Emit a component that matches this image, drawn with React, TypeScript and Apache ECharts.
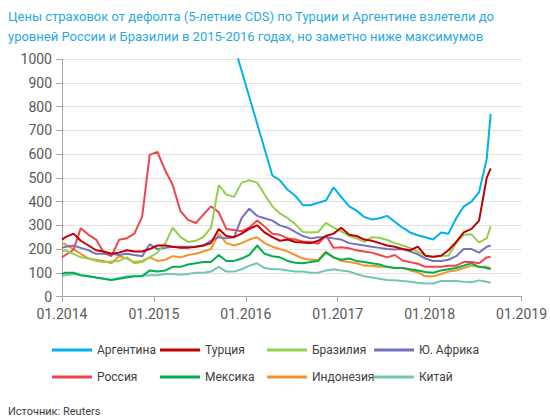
import { useEffect, useRef } from "react";
import * as echarts from "echarts";

const DATES = [
  "2014-01-01",
  "2014-01-15", "2014-02-15", "2014-03-15", "2014-04-15", "2014-05-15", "2014-06-15",
  "2014-07-15", "2014-08-15", "2014-09-15", "2014-10-15", "2014-11-15", "2014-12-15",
  "2015-01-15", "2015-02-15", "2015-03-15", "2015-04-15", "2015-05-15", "2015-06-15",
  "2015-07-15", "2015-08-15", "2015-09-15", "2015-10-15", "2015-11-15", "2015-12-15",
  "2016-01-15", "2016-02-15", "2016-03-15", "2016-04-15", "2016-05-15", "2016-06-15",
  "2016-07-15", "2016-08-15", "2016-09-15", "2016-10-15", "2016-11-15", "2016-12-15",
  "2017-01-15", "2017-02-15", "2017-03-15", "2017-04-15", "2017-05-15", "2017-06-15",
  "2017-07-15", "2017-08-15", "2017-09-15", "2017-10-15", "2017-11-15", "2017-12-15",
  "2018-01-15", "2018-02-15", "2018-03-15", "2018-04-15", "2018-05-15", "2018-06-15",
  "2018-07-15", "2018-08-15", "2018-08-31",
];

const ARGENTINA = [
  null,
  null, null, null, null, null, null, null, null, null, null, null, null,
  null, null, null, null, null, null, null, null, null, null, 1060, null,
  null, null, null, 510, 490, 450, 425, 385, 385, 395, 405, 460,
  420, 380, 362, 335, 325, 330, 340, 315, 290, 270, 258, 250,
  240, 270, 265, 330, 380, 400, 440, 580, 770,
];
const TURKEY = [
  240,
  250, 265, 235, 215, 195, 190, 180, 185, 195, 190, 190, 200,
  215, 215, 210, 205, 205, 210, 215, 225, 285, 255, 250, 265,
  285, 300, 270, 250, 235, 240, 230, 228, 225, 235, 255, 265,
  290, 260, 255, 240, 235, 225, 215, 210, 200, 195, 210, 172,
  168, 172, 195, 230, 270, 285, 320, 500, 540,
];
const BRAZIL = [
  190,
  195, 180, 165, 160, 150, 145, 148, 150, 165, 140, 145, 165,
  185, 225, 290, 250, 230, 235, 250, 290, 470, 430, 420, 480,
  490, 480, 430, 380, 350, 330, 305, 272, 270, 272, 310, 290,
  275, 255, 245, 230, 250, 248, 238, 225, 215, 205, 188, 172,
  166, 172, 172, 225, 260, 262, 228, 245, 295,
];
const SOUTH_AFRICA = [
  205,
  210, 215, 205, 195, 180, 180, 180, 175, 180, 175, 170, 220,
  200, 205, 210, 210, 210, 210, 215, 235, 250, 245, 250, 330,
  370, 340, 330, 320, 300, 290, 272, 255, 245, 250, 250, 245,
  240, 225, 220, 215, 210, 205, 200, 198, 200, 190, 178, 160,
  150, 150, 155, 170, 200, 200, 185, 210, 215,
];
const RUSSIA = [
  165,
  175, 197, 288, 260, 240, 183, 170, 239, 246, 265, 337, 597,
  610, 530, 470, 360, 323, 310, 345, 380, 355, 285, 280, 275,
  290, 320, 295, 265, 260, 245, 240, 232, 230, 222, 258, 205,
  208, 203, 195, 190, 185, 175, 165, 175, 152, 145, 138, 125,
  125, 125, 130, 130, 145, 145, 140, 165, 168,
];
const MEXICO = [
  95,
  100, 100, 90, 85, 80, 75, 70, 75, 80, 85, 85, 110,
  105, 110, 125, 125, 135, 140, 145, 145, 175, 150, 150, 160,
  175, 215, 180, 170, 165, 150, 142, 140, 145, 150, 185, 165,
  155, 160, 150, 145, 140, 135, 125, 120, 120, 115, 110, 103,
  100, 110, 115, 120, 130, 140, 125, 120, 115,
];
const INDONESIA = [
  225,
  220, 200, 180, 160, 155, 150, 140, 170, 160, 145, 150, 165,
  150, 155, 170, 165, 175, 180, 190, 200, 265, 225, 215, 225,
  240, 250, 225, 210, 200, 190, 175, 160, 155, 155, 190, 165,
  150, 145, 140, 130, 130, 125, 125, 120, 120, 110, 102, 85,
  85, 95, 105, 110, 120, 130, 125, 125, 120,
];
const CHINA = [
  85,
  90, 95, 90, 85, 80, 75, 70, 78, 85, 85, 88, 90,
  90, 95, 95, 92, 95, 100, 100, 105, 125, 105, 105, 115,
  130, 140, 120, 115, 115, 110, 105, 105, 100, 100, 110, 115,
  110, 105, 95, 85, 80, 75, 70, 68, 65, 62, 58, 55,
  55, 65, 65, 65, 62, 60, 68, 62, 58,
];

const X_TICK_LABELS = ["01.2014", "01.2015", "01.2016", "01.2017", "01.2018", "01.2019"];
const Y_TICKS = [0, 100, 200, 300, 400, 500, 600, 700, 800, 900, 1000];

const TITLE =
  "Цены страховок от дефолта (5-летние CDS) по Турции и Аргентине взлетели до\nуровней России и Бразилии в 2015-2016 годах, но заметно ниже максимумов";
const SOURCE = "Источник: Reuters";

const SERIES = [
  { name: "Аргентина", data: ARGENTINA, color: "#00b0f0" },
  { name: "Турция", data: TURKEY, color: "#c00000" },
  { name: "Бразилия", data: BRAZIL, color: "#92d050" },
  { name: "Ю. Африка", data: SOUTH_AFRICA, color: "#7472be" },
  { name: "Россия", data: RUSSIA, color: "#f0434b" },
  { name: "Мексика", data: MEXICO, color: "#00b050" },
  { name: "Индонезия", data: INDONESIA, color: "#f7922b" },
  { name: "Китай", data: CHINA, color: "#74c5b5" },
];
const DRAW_ORDER = ["Китай", "Индонезия", "Мексика", "Россия", "Ю. Африка", "Бразилия", "Турция", "Аргентина"];

function monthOffset(d: string): number {
  const [y, m, day] = d.split("-").map(Number);
  const dim = new Date(y, m, 0).getDate();
  return (y - 2014) * 12 + (m - 1) + (day - 1) / dim;
}

const FONT = "Roboto, 'Liberation Sans', sans-serif";

export default function App() {
  const ref = useRef<HTMLDivElement>(null);
  useEffect(() => {
    document.body.style.margin = "0";
    if (!ref.current) return;
    const chart = echarts.init(ref.current, undefined, { renderer: "svg" });
    const xs = DATES.map(monthOffset);
    const colLeft = [52, 160, 267, 374];
    const rowTop = [344, 371];
    const legends = SERIES.map((s, i) => ({
      show: true,
      data: [s.name],
      left: colLeft[i % 4],
      top: rowTop[Math.floor(i / 4)],
      icon: "rect",
      itemWidth: 40,
      itemHeight: 3,
      itemGap: 0,
      padding: 0,
      selectedMode: false,
      textStyle: { fontSize: 12, color: "#404040", fontFamily: FONT },
    }));
    const series = DRAW_ORDER.map((n) => SERIES.find((s) => s.name === n)!).map((s) => ({
      name: s.name,
      type: "line",
      data: xs.map((x, i) => [x, s.data[i]]),
      showSymbol: false,
      connectNulls: true,
      clip: true,
      color: s.color,
      lineStyle: { width: 2, color: s.color },
    }));
    chart.setOption({
      animation: false,
      textStyle: { fontFamily: FONT },
      title: [
        {
          text: TITLE,
          left: 3,
          top: 1,
          textStyle: { fontSize: 13, fontWeight: "normal", color: "#29a9df", lineHeight: 20, fontFamily: FONT },
        },
        {
          text: SOURCE,
          left: 3,
          top: 401,
          textStyle: { fontSize: 11, fontWeight: "normal", color: "#404040", fontFamily: FONT },
        },
      ],
      legend: legends,
      grid: { left: 62, right: 26, top: 59.3, bottom: 121.5, containLabel: false },
      xAxis: {
        type: "value",
        min: 0,
        max: 60,
        interval: 12,
        axisLine: { show: true, lineStyle: { color: "#a6a6a6" } },
        axisTick: { show: true, length: 5, lineStyle: { color: "#a6a6a6" } },
        splitLine: { show: false },
        axisLabel: {
          fontSize: 14,
          color: "#595959",
          margin: 10,
          showMaxLabel: true,
          formatter: (v: number) => X_TICK_LABELS[Math.round(v / 12)] ?? "",
        },
      },
      yAxis: {
        type: "value",
        min: Y_TICKS[0],
        max: Y_TICKS[Y_TICKS.length - 1],
        interval: 100,
        axisLine: { show: true, lineStyle: { color: "#a6a6a6" } },
        axisTick: { show: true, length: 6, lineStyle: { color: "#a6a6a6" } },
        splitLine: { show: true, lineStyle: { color: "#e3e3e3", width: 1 } },
        axisLabel: { fontSize: 14, color: "#595959", margin: 10, formatter: (v: number) => String(v) },
      },
      series,
    });
    return () => chart.dispose();
  }, []);
  return <div ref={ref} style={{ width: 550, height: 418 }} />;
}
